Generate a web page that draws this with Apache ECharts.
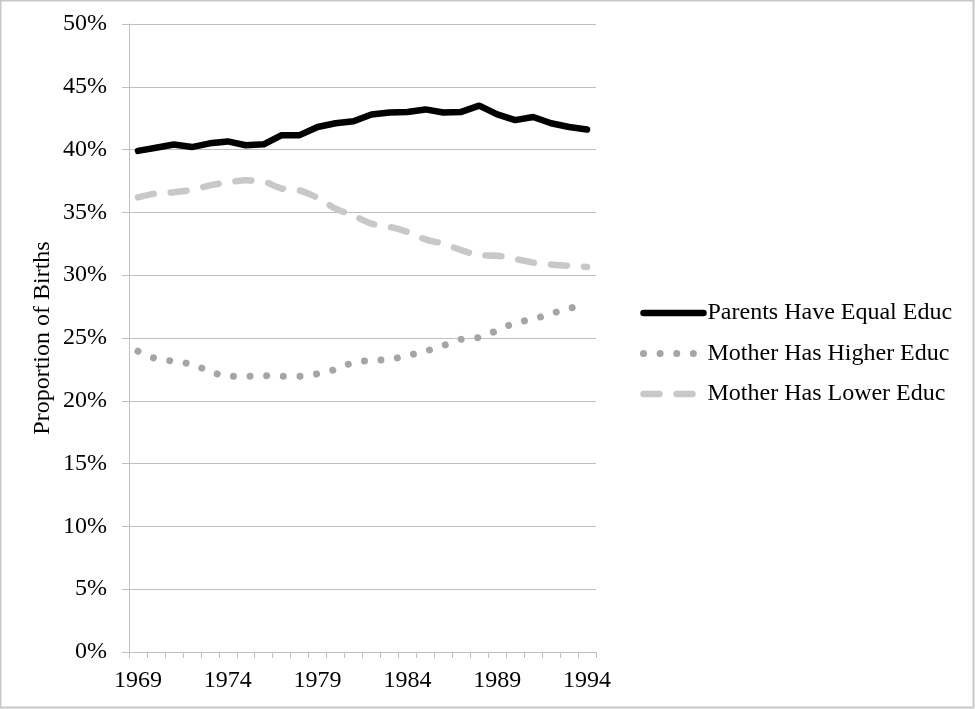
<!DOCTYPE html>
<html>
<head>
<meta charset="utf-8">
<script src="https://cdn.jsdelivr.net/npm/echarts@6/dist/echarts.min.js"></script>
<style>
html,body{margin:0;padding:0;background:#fff;}
#chart{width:976px;height:709px;}
</style>
</head>
<body>
<div id="chart"></div>
<script>
var years = ['1969','1970','1971','1972','1973','1974','1975','1976','1977','1978','1979','1980','1981','1982','1983','1984','1985','1986','1987','1988','1989','1990','1991','1992','1993','1994'];
var equalEduc = [39.9,40.15,40.4,40.2,40.5,40.65,40.35,40.42,41.15,41.15,41.8,42.1,42.25,42.8,42.95,43.0,43.2,42.95,43.0,43.5,42.8,42.35,42.6,42.1,41.8,41.6];
var higherEduc = [23.95,23.35,23.15,22.9,22.35,21.95,21.95,22.0,21.95,21.95,22.15,22.5,23.05,23.2,23.3,23.6,23.95,24.4,24.9,25.05,25.6,26.2,26.5,26.95,27.35,27.7];
var lowerEduc = [36.2,36.5,36.6,36.8,37.15,37.4,37.55,37.45,36.9,36.75,36.15,35.3,34.75,34.1,33.85,33.45,32.85,32.5,32.0,31.6,31.55,31.3,31.0,30.85,30.75,30.65];
var seriesNames = ['Parents Have Equal Educ','Mother Has Higher Educ','Mother Has Lower Educ'];
var yTicks = [0,5,10,15,20,25,30,35,40,45,50];

var FONT = 'Liberation Serif';
var chart = echarts.init(document.getElementById('chart'), null, {renderer:'canvas'});
chart.setOption({
  backgroundColor:'#fff',
  animation:false,
  graphic:[{type:'rect',shape:{x:0.5,y:0.5,width:973,height:707},style:{fill:'none',stroke:'#c8c8c8',lineWidth:2},silent:true,z:-1}],
  grid:{left:129,right:380,top:24,bottom:57,containLabel:false},
  legend:{
    orient:'vertical',left:640,top:301,padding:0,itemWidth:60,itemHeight:24,itemGap:16.5,
    itemStyle:{color:'rgba(0,0,0,0)',borderWidth:0,opacity:0},
    lineStyle:{width:'inherit',type:'inherit',cap:'inherit'},
    textStyle:{fontFamily:FONT,fontSize:24,color:'#000',padding:[0,0,0,-1]},
    data:seriesNames
  },
  xAxis:{
    type:'category',data:years,boundaryGap:true,
    axisLine:{lineStyle:{color:'#bfbfbf',width:1}},
    axisTick:{show:true,interval:0,length:6,lineStyle:{color:'#bfbfbf'}},
    axisLabel:{interval:4,fontFamily:FONT,fontSize:24,color:'#000',margin:17}
  },
  yAxis:{
    type:'value',min:yTicks[0],max:yTicks[yTicks.length-1],interval:5,
    name:'Proportion of Births',nameLocation:'middle',nameGap:74,nameRotate:90,
    nameTextStyle:{fontFamily:FONT,fontSize:24,color:'#000'},
    axisLine:{show:true,lineStyle:{color:'#bfbfbf',width:1}},
    axisTick:{show:true,length:7,lineStyle:{color:'#bfbfbf'}},
    splitLine:{lineStyle:{color:'#bfbfbf',width:1}},
    axisLabel:{formatter:function(v){return v+'%';},fontFamily:FONT,fontSize:24,color:'#000',margin:22}
  },
  series:[
    {name:seriesNames[0],type:'line',data:equalEduc,symbol:'none',smooth:false,
     itemStyle:{color:'#000'},
     lineStyle:{color:'#000',width:6.5,cap:'round',join:'round'},z:5},
    {name:seriesNames[1],type:'line',data:higherEduc,symbol:'none',smooth:0.3,
     itemStyle:{color:'#a5a5a5'},
     lineStyle:{color:'#a5a5a5',width:7,type:[0.01,16.6],cap:'round'},z:3},
    {name:seriesNames[2],type:'line',data:lowerEduc,symbol:'none',smooth:0.3,
     itemStyle:{color:'#c8c8c8'},
     lineStyle:{color:'#c8c8c8',width:6.5,type:[16,17],cap:'round'},z:4}
  ]
});
</script>
</body>
</html>
